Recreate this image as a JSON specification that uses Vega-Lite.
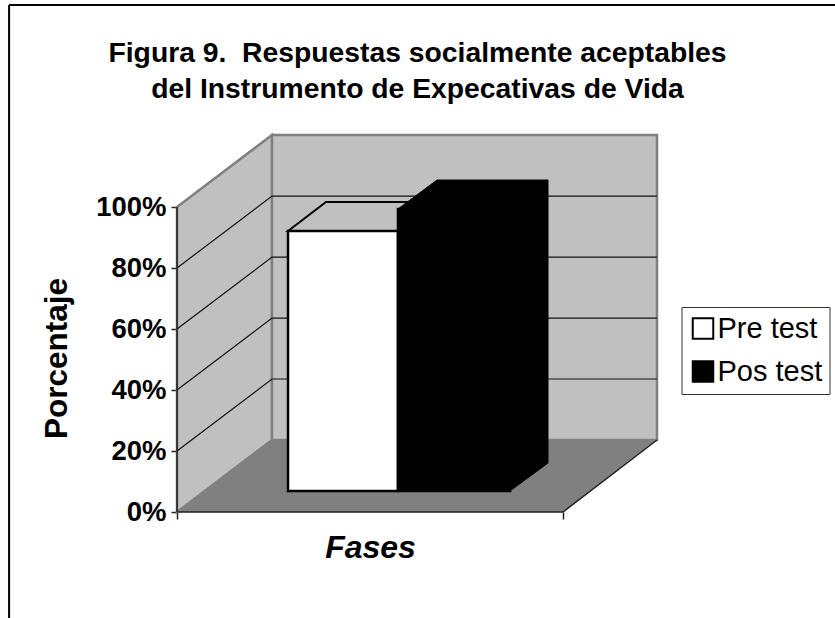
{
"$schema":"https://vega.github.io/schema/vega-lite/v6.json",
"autosize":{"type":"none"},
"padding":{"left":177,"top":135,"right":177,"bottom":106},
"width":481,"height":377,
"background":"white",
"title":{"text":["Figura 9.\u00a0 Respuestas socialmente aceptables","del Instrumento de Expecativas de Vida"],"font":"Liberation Sans","fontSize":28.3,"fontWeight":"bold","color":"black","anchor":"middle","frame":"group","lineHeight":36,"offset":-103},
"config":{"view":{"stroke":null}},
"encoding":{
"x":{"field":"x","type":"quantitative","scale":{"domain":[0,1.2461],"nice":false,"zero":false},
"axis":{"values":[0,1],"labels":false,"grid":false,"domain":false,"ticks":true,"tickSize":7,"tickColor":"#222222","tickWidth":1.5,"title":"Fases","titleFont":"Liberation Sans","titleFontSize":32,"titleFontWeight":"bold","titleFontStyle":"italic","titleColor":"black","titleX":193,"titleY":45,"titleBaseline":"alphabetic"}},
"y":{"field":"y","type":"quantitative","scale":{"domain":[0,123.61],"nice":false,"zero":false},
"axis":{"values":[0,20,40,60,80,100],"labelExpr":"datum.value + '%'","grid":false,"domain":false,"tickSize":6,"tickColor":"#222222","tickWidth":1.5,"labelFont":"Liberation Sans","labelFontSize":27.5,"labelFontWeight":"bold","labelColor":"black","labelPadding":5,"title":"Porcentaje","titleFont":"Liberation Sans","titleFontSize":31.5,"titleFontWeight":"bold","titleColor":"black","titleX":-111,"titleY":223,"titleAngle":-90,"titleBaseline":"alphabetic"}}
},
"layer":[
{"data":{"values":[
{"part":"side","x":0,"y":100,"y2":0},{"part":"side","x":0.2461,"y":123.6,"y2":23.6},
{"part":"back","x":0.2461,"y":123.6,"y2":23.6},{"part":"back","x":1.2435,"y":123.6,"y2":23.6}]},
"mark":{"type":"area","orient":"vertical","fill":"#c0c0c0","stroke":"#808080","strokeWidth":2.5},
"encoding":{"y2":{"field":"y2"},"detail":{"field":"part"}}},
{"data":{"values":[
{"x":0,"y":0,"y2":0},{"x":0.2461,"y":23.6,"y2":0},{"x":1,"y":23.6,"y2":0},{"x":1.2435,"y":23.6,"y2":23.6}]},
"mark":{"type":"area","orient":"vertical","fill":"#808080"},
"encoding":{"y2":{"field":"y2"}}},
{"data":{"values":[
{"g":20,"x":0,"y":20},{"g":20,"x":0.2461,"y":43.6},{"g":20,"x":1.2435,"y":43.6},
{"g":40,"x":0,"y":40},{"g":40,"x":0.2461,"y":63.6},{"g":40,"x":1.2435,"y":63.6},
{"g":60,"x":0,"y":60},{"g":60,"x":0.2461,"y":83.6},{"g":60,"x":1.2435,"y":83.6},
{"g":80,"x":0,"y":80},{"g":80,"x":0.2461,"y":103.6},{"g":80,"x":1.2435,"y":103.6}]},
"mark":{"type":"line","color":"#111111","strokeWidth":1.2},
"encoding":{"detail":{"field":"g"}}},
{"data":{"values":[
{"g":"yaxis","x":0,"y":0},{"g":"yaxis","x":0,"y":100},
{"g":"xaxis","x":0,"y":0},{"g":"xaxis","x":1,"y":0},{"g":"xaxis","x":1.2435,"y":23.6}]},
"mark":{"type":"line","color":"#222222","strokeWidth":1.5},
"encoding":{"detail":{"field":"g"},"order":{"field":"x"}}},
{"data":{"values":[
{"x":0.2876,"y":92.13,"y2":92.13},{"x":0.386,"y":101.64,"y2":92.13},{"x":0.5725,"y":101.64,"y2":92.13},{"x":0.671,"y":101.64,"y2":101.64}]},
"mark":{"type":"area","orient":"vertical","fill":"#c0c0c0","stroke":"black","strokeWidth":2},
"encoding":{"y2":{"field":"y2"}}},
{"data":{"values":[
{"series":"Pre test","x":0.2876,"y":92.13,"y2":6.89},{"series":"Pre test","x":0.5725,"y":92.13,"y2":6.89},
{"series":"Pos test","x":0.5725,"y":99.34,"y2":6.89},{"series":"Pos test","x":0.8627,"y":99.34,"y2":6.89}]},
"mark":{"type":"area","orient":"vertical","stroke":"black","strokeWidth":2.5},
"encoding":{"y2":{"field":"y2"},
"fill":{"field":"series","type":"nominal","scale":{"domain":["Pre test","Pos test"],"range":["white","black"]},
"legend":{"orient":"none","legendX":504.5,"legendY":172,"title":null,"symbolType":"square","symbolSize":420,"symbolStrokeColor":"black","symbolStrokeWidth":2,"labelFont":"Liberation Sans","labelFontSize":29,"labelColor":"black","labelOffset":0,"rowPadding":13,"padding":7,"fillColor":"white","strokeColor":"#333333","columnPadding":0}}}},
{"data":{"values":[
{"part":"top","x":0.5725,"y":99.34,"y2":99.34},{"part":"top","x":0.6736,"y":108.85,"y2":99.34},{"part":"top","x":0.8627,"y":108.85,"y2":99.34},{"part":"top","x":0.9611,"y":108.85,"y2":108.85},
{"part":"side","x":0.8627,"y":99.34,"y2":6.89},{"part":"side","x":0.9611,"y":108.85,"y2":16.07}]},
"mark":{"type":"area","orient":"vertical","fill":"black","stroke":"black","strokeWidth":1},
"encoding":{"y2":{"field":"y2"},"detail":{"field":"part"}}},
{"data":{"values":[
{"g":"left","x":-0.435,"y":-34.75},{"g":"left","x":-0.435,"y":166.2},
{"g":"top","x":-0.435,"y":166.2},{"g":"top","x":1.705,"y":166.2}]},
"mark":{"type":"line","color":"black","strokeWidth":2,"clip":false},
"encoding":{"detail":{"field":"g"}}}
]
}
